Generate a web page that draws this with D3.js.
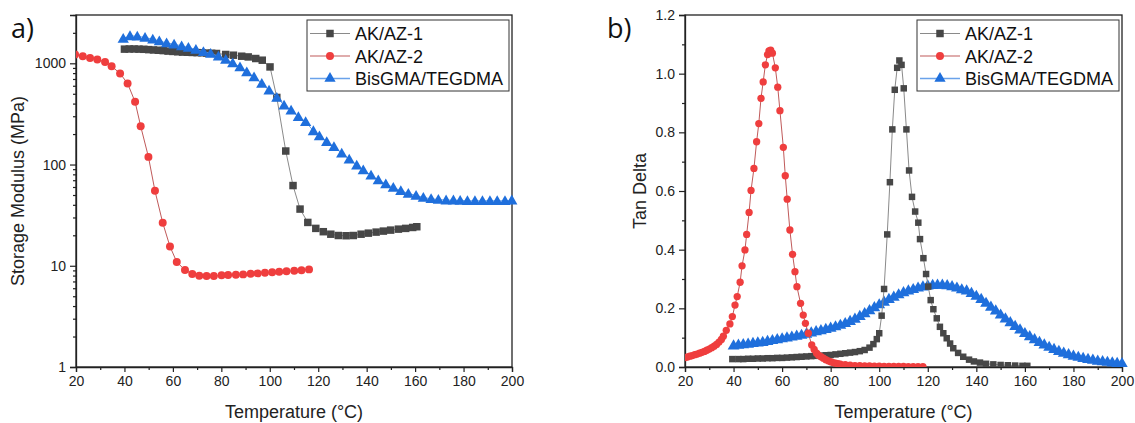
<!DOCTYPE html>
<html>
<head>
<meta charset="utf-8">
<script src="https://cdn.jsdelivr.net/npm/d3@7"></script>
<style>
  html, body { margin: 0; padding: 0; background: #fff; }
  svg { display: block; }
</style>
</head>
<body>
<svg id="chart" width="1135" height="423"></svg>
<script>
// ---------------- DATA ----------------
const seriesNames = ["AK/AZ-1", "AK/AZ-2", "BisGMA/TEGDMA"];
const xTicks = [20, 40, 60, 80, 100, 120, 140, 160, 180, 200];
const modulusTicks = [1, 10, 100, 1000];
const tanTicks = [0.0, 0.2, 0.4, 0.6, 0.8, 1.0, 1.2];

// Panel a) storage modulus (MPa)
const ak1StorT = [40,42,44,46,48,50,52,54,56,58,60,62,64,66,68,70,72,74,76,78,81.8,85,88.4,91.1,94.2,96.9,100.1,102.9,106.6,109.6,112.5,115.7,119,122.1,125.2,128.3,131.5,134.5,137.7,140.7,143.9,146.9,149.9,153.1,156.1,159,160.7];
const ak1StorV = [1380,1385,1385,1380,1375,1365,1355,1345,1335,1320,1310,1300,1290,1285,1280,1275,1270,1262,1255,1250,1222,1202,1175,1156,1115,1073,921,460,136,62,36.3,26.8,23.4,21.7,20.5,19.9,19.8,19.9,20.5,21.0,21.5,22.0,22.5,23.0,23.4,23.9,24.3];

const ak2StorT = [19.6,22.8,25.8,28.8,32,34.7,38.2,41.3,44.4,46.7,49.9,52.6,55.8,58.8,61.6,65,68,70.9,73.9,76.9,80.1,82.8,86,89,92.1,95,98,101,103.9,106.9,110.1,113.1,116.2];
const ak2StorV = [1222,1175,1131,1090,1032,936,793,632,416,239,119,55,26.6,15.5,10.9,9.07,8.28,7.97,7.91,7.91,8.04,8.09,8.15,8.22,8.34,8.41,8.53,8.61,8.72,8.81,8.93,9.01,9.21];

const bisStorT = [39.5,42.3,45.3,48.5,51.7,54.4,57.4,60.5,63.6,66.4,69.5,72.6,75.6,78.8,81.8,84.7,87.7,90.5,93.5,96.7,99.7,102.9,105.9,108.8,111.8,114.8,118,120.5,123.5,126.5,129.7,132.8,135.9,138.6,141.8,144.8,147.9,151,154.1,157.2,160.4,163.4,166.6,169.6,172.8,175.8,178.6,181.6,184.7,187.8,190.9,193.9,197.1,199.9];
const bisStorV = [1758,1866,1852,1798,1730,1663,1589,1544,1486,1432,1368,1297,1250,1175,1090,1009,921,822,734,632,542,460,386,344,296,264,215,191,168,150,129,113,98.6,88.1,78.5,70.2,64.1,59.4,55,51.8,49.5,47.3,45.8,45.2,44.5,44.5,44.2,43.8,43.8,43.8,43.8,43.8,43.8,44.5];

// Panel b) tan delta
const ak1TanT = [39.5,42,44,46,48,50,52,54,56,58,60,62,64,66,68,70,72,74,76,78,80,82,84,86,88,90,92,94,96,97.6,99,100,101,102,103.3,104.4,105.4,106.4,107.4,108.3,109.2,110.1,111.2,112.3,113.5,114.8,116.1,116.8,118.2,119.3,120.2,121.2,122.3,123.7,125,126.4,127.8,129.2,130.5,132.5,134.6,137,139,141.5,144,147,150,153,156,159,161];
const ak1TanV = [0.027,0.027,0.027,0.028,0.028,0.029,0.029,0.030,0.030,0.031,0.031,0.032,0.033,0.034,0.035,0.036,0.037,0.038,0.039,0.040,0.041,0.043,0.045,0.047,0.049,0.051,0.054,0.058,0.066,0.078,0.095,0.115,0.175,0.266,0.452,0.63,0.81,0.945,1.02,1.045,1.03,0.95,0.81,0.67,0.58,0.53,0.492,0.436,0.371,0.317,0.274,0.228,0.197,0.166,0.137,0.115,0.098,0.080,0.064,0.048,0.035,0.025,0.019,0.015,0.011,0.009,0.007,0.006,0.005,0.004,0.004];

const ak2TanT = [20,21,22,23,24,25,26,27,28,29,30,31,32,33,34,35,35.8,37,38.5,39.5,40.6,41.5,42.7,43.5,44.7,45.4,46.4,47.2,48.4,49.5,50.4,51.3,52.2,53.1,54,54.6,55.3,56,57.2,58.2,59.1,60.5,61.3,62.1,63.2,64.3,65.3,66.1,67.6,68.7,69.6,70.8,72.2,73.2,74.2,75,76,77,78,79,80,81,82,83,84,86,88,90,92,94,96,98,100,102,104,106,108,110,112,114,116,118];
const ak2TanV = [0.032,0.034,0.037,0.039,0.042,0.044,0.047,0.050,0.053,0.057,0.061,0.066,0.071,0.077,0.085,0.094,0.105,0.125,0.147,0.172,0.211,0.240,0.289,0.345,0.399,0.452,0.527,0.602,0.677,0.768,0.830,0.916,0.972,1.030,1.065,1.078,1.080,1.070,1.020,0.954,0.874,0.749,0.652,0.572,0.467,0.384,0.325,0.274,0.217,0.177,0.149,0.115,0.075,0.060,0.047,0.040,0.035,0.030,0.025,0.021,0.018,0.015,0.013,0.011,0.010,0.008,0.006,0.005,0.005,0.004,0.004,0.003,0.003,0.002,0.002,0.002,0.002,0.002,0.001,0.001,0.001,0.001];

const bisTanT = [40,42,44,46,48,50,52,54,56,58,60,62,64,66,68,70,72,74,76,78,80,82,84,86,88,90,92,94,96,98,100,102,104,106,108,110,112,114,116,118,120,122,124,126,128,130,132,134,136,138,140,142,144,146,148,150,152,154,156,158,160,162,164,166,168,170,172,174,176,178,180,182,184,186,188,190,192,194,196,198,200];
const bisTanV = [0.075,0.077,0.079,0.081,0.083,0.085,0.087,0.090,0.093,0.096,0.099,0.102,0.105,0.108,0.111,0.115,0.119,0.123,0.127,0.131,0.135,0.140,0.145,0.151,0.158,0.166,0.175,0.185,0.195,0.205,0.215,0.224,0.233,0.241,0.249,0.256,0.262,0.267,0.272,0.276,0.279,0.281,0.282,0.282,0.280,0.277,0.272,0.266,0.262,0.254,0.244,0.233,0.220,0.207,0.194,0.180,0.167,0.154,0.141,0.129,0.117,0.106,0.096,0.087,0.078,0.070,0.063,0.056,0.050,0.045,0.040,0.036,0.032,0.029,0.026,0.023,0.021,0.019,0.017,0.015,0.014];

// ---------------- STYLE ----------------
const FONT = '"Liberation Sans", Arial, sans-serif';
const colors = {
  ak1: { fill: "#474747", line: "#8a8a8a" },
  ak2: { fill: "#ef3e3e", line: "#c05a5a" },
  bis: { fill: "#1f6fdc", line: "#6aa2ea" }
};

const svg = d3.select("#chart");

function zip(ts, vs) { return ts.map((t, i) => ({ t, v: vs[i] })); }

// midpoint helper for dense blue band (draw extra marker between samples)
function drawPanel(cfg) {
  const g = svg.append("g").attr("font-family", FONT);
  const x = d3.scaleLinear().domain([20, 200]).range([cfg.x0, cfg.x1]);
  const y = cfg.y;

  // frame
  g.append("rect").attr("x", cfg.x0).attr("y", cfg.y0)
    .attr("width", cfg.x1 - cfg.x0).attr("height", cfg.y1 - cfg.y0)
    .attr("fill", "none").attr("stroke", "#222").attr("stroke-width", 1.3);

  // x axis major / minor
  const xMinor = d3.range(30, 200, 20);
  g.append("g").attr("transform", `translate(0,${cfg.y1})`)
    .call(d3.axisBottom(x).tickValues(xMinor).tickSize(3).tickFormat(""))
    .call(a => a.select(".domain").remove())
    .selectAll("line").attr("stroke", "#222").attr("stroke-width", 1.2);
  const xa = g.append("g").attr("transform", `translate(0,${cfg.y1})`)
    .call(d3.axisBottom(x).tickValues(xTicks).tickSize(5).tickPadding(4).tickFormat(d3.format("d")));
  xa.attr("font-family", FONT);
  xa.select(".domain").attr("stroke", "#222").attr("stroke-width", 1.3);
  xa.selectAll("line").attr("stroke", "#222").attr("stroke-width", 1.2);
  xa.selectAll("text").attr("font-size", 14).attr("fill", "#222").attr("font-family", FONT);

  // y axis
  if (cfg.yMinor) {
    g.append("g").attr("transform", `translate(${cfg.x0},0)`)
      .call(d3.axisLeft(y).tickValues(cfg.yMinor).tickSize(3).tickFormat(""))
      .call(a => a.select(".domain").remove())
      .selectAll("line").attr("stroke", "#222").attr("stroke-width", 1.2);
  }
  const ya = g.append("g").attr("transform", `translate(${cfg.x0},0)`)
    .call(d3.axisLeft(y).tickValues(cfg.yTicks).tickSize(6).tickPadding(4).tickFormat(cfg.yFormat));
  ya.attr("font-family", FONT);
  ya.select(".domain").attr("stroke", "#222").attr("stroke-width", 1.3);
  ya.selectAll("line").attr("stroke", "#222").attr("stroke-width", 1.2);
  ya.selectAll("text").attr("font-size", 14).attr("fill", "#222").attr("font-family", FONT);

  // titles
  g.append("text").attr("x", (cfg.x0 + cfg.x1) / 2).attr("y", 418)
    .attr("text-anchor", "middle").attr("font-size", 18).attr("fill", "#222")
    .attr("font-family", FONT)
    .text("Temperature (\u00B0C)");
  g.append("text")
    .attr("transform", `translate(${cfg.yTitleX},${(cfg.y0 + cfg.y1) / 2}) rotate(-90)`)
    .attr("text-anchor", "middle").attr("font-size", 18).attr("fill", "#222")
    .attr("font-family", FONT)
    .text(cfg.yTitle);
  g.append("text").attr("x", cfg.labelX).attr("y", 38)
    .attr("font-size", 27).attr("fill", "#111")
    .attr("font-family", '"Open Sans", "Liberation Sans", sans-serif')
    .text(cfg.label);

  // clip
  const clipId = "clip" + cfg.label.replace(")", "");
  svg.append("clipPath").attr("id", clipId).append("rect")
    .attr("x", cfg.x0).attr("y", cfg.y0 - 8).attr("width", cfg.x1 - cfg.x0 + 6).attr("height", cfg.y1 - cfg.y0 + 8);
  const plot = g.append("g").attr("clip-path", `url(#${clipId})`);

  const line = d3.line().x(d => x(d.t)).y(d => y(d.v));
  cfg.series.forEach(s => {
    const data = zip(s.t, s.v);
    plot.append("path").datum(data).attr("d", line)
      .attr("fill", "none").attr("stroke", s.color.line).attr("stroke-width", 1);
    const sym = d3.symbol().type(s.symbol).size(s.size);
    plot.selectAll(null).data(data).enter().append("path")
      .attr("d", sym)
      .attr("transform", d => `translate(${x(d.t)},${y(d.v) + (s.dy || 0)})`)
      .attr("fill", s.color.fill);
  });

  // legend
  const lx = cfg.legendX, ly = 20;
  g.append("rect").attr("x", lx).attr("y", ly).attr("width", 202).attr("height", 71)
    .attr("fill", "#fff").attr("stroke", "#333").attr("stroke-width", 1);
  const rows = [
    { name: seriesNames[0], color: colors.ak1, symbol: d3.symbolSquare, size: 56 },
    { name: seriesNames[1], color: colors.ak2, symbol: d3.symbolCircle, size: 50 },
    { name: seriesNames[2], color: colors.bis, symbol: d3.symbolTriangle, size: 55 }
  ];
  rows.forEach((r, i) => {
    const cy = ly + 13.5 + i * 22.5;
    g.append("line").attr("x1", lx + 3).attr("x2", lx + 43).attr("y1", cy).attr("y2", cy)
      .attr("stroke", r.color.line).attr("stroke-width", i === 2 ? 1.6 : 1.2);
    g.append("path").attr("d", d3.symbol().type(r.symbol).size(r.size)())
      .attr("transform", `translate(${lx + 23},${cy})`).attr("fill", r.color.fill);
    g.append("text").attr("x", lx + 48).attr("y", cy + 6.5)
      .attr("font-size", 18).attr("fill", "#111").attr("font-family", FONT).text(r.name);
  });
}

// Panel a
const yA = d3.scaleLog().domain([1, 3000]).range([367, 15]);
const minorLog = [];
[1, 10, 100, 1000].forEach(dec => { for (let k = 2; k <= 9; k++) { const v = dec * k; if (v <= 3000) minorLog.push(v); } });
drawPanel({
  x0: 76, x1: 512, y0: 15, y1: 367, y: yA,
  yTicks: modulusTicks, yMinor: minorLog, yFormat: d3.format("d"),
  yTitle: "Storage Modulus (MPa)", yTitleX: 24, label: "a)", labelX: 11, legendX: 307,
  series: [
    { t: ak1StorT, v: ak1StorV, color: colors.ak1, symbol: d3.symbolSquare, size: 56 },
    { t: bisStorT, v: bisStorV, color: colors.bis, symbol: d3.symbolTriangle, size: 55, dy: 1 },
    { t: ak2StorT, v: ak2StorV, color: colors.ak2, symbol: d3.symbolCircle, size: 50 }
  ]
});

// Panel b
const yB = d3.scaleLinear().domain([0, 1.2]).range([367, 15]);
drawPanel({
  x0: 685, x1: 1122, y0: 15, y1: 367, y: yB,
  yTicks: tanTicks, yMinor: d3.range(0.1, 1.2, 0.2), yFormat: d3.format(".1f"),
  yTitle: "Tan Delta", yTitleX: 646, label: "b)", labelX: 607, legendX: 917,
  series: [
    { t: bisTanT, v: bisTanV, color: colors.bis, symbol: d3.symbolTriangle, size: 60, dy: 1 },
    { t: ak1TanT, v: ak1TanV, color: colors.ak1, symbol: d3.symbolSquare, size: 42 },
    { t: ak2TanT, v: ak2TanV, color: colors.ak2, symbol: d3.symbolCircle, size: 42 }
  ]
});
</script>
</body>
</html>
